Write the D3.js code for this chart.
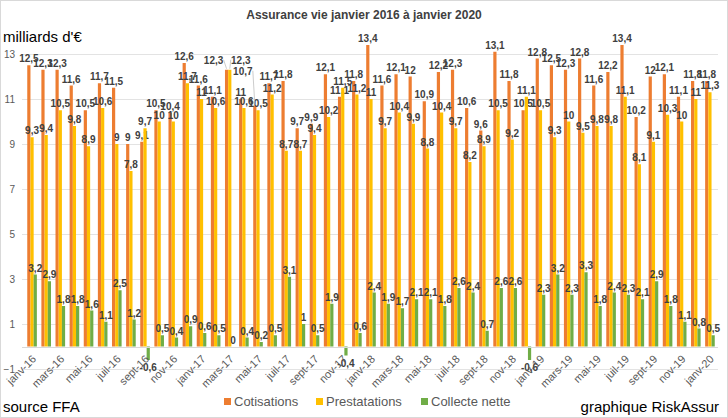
<!DOCTYPE html>
<html>
<head>
<meta charset="utf-8">
<script src="https://cdn.jsdelivr.net/npm/d3@7"></script>
<style>
  body { margin: 0; background: #fff; }
  svg { display: block; font-family: "Liberation Sans", Arial, sans-serif; }
</style>
</head>
<body>
<script>
// months, one per bar group
var months = [
  "janv-16","févr-16","mars-16","avr-16","mai-16","juin-16","juil-16","août-16","sept-16","oct-16","nov-16","déc-16",
  "janv-17","févr-17","mars-17","avr-17","mai-17","juin-17","juil-17","août-17","sept-17","oct-17","nov-17","déc-17",
  "janv-18","févr-18","mars-18","avr-18","mai-18","juin-18","juil-18","août-18","sept-18","oct-18","nov-18","déc-18",
  "janv-19","févr-19","mars-19","avr-19","mai-19","juin-19","juil-19","août-19","sept-19","oct-19","nov-19","déc-19",
  "janv-20"
];

var cotisations = [
  12.5,12.3,12.3,11.6,10.5,11.7,11.5,9,9.1,10.5,10.4,12.6,
  11.6,11.1,12.3,11,10.7,11.7,11.8,9.7,9.9,12.1,11.1,11.8,
  13.4,11.6,12.1,12,10.9,12.2,12.3,10.6,9.6,13.1,11.8,10.5,
  12.8,12.5,12.3,12.8,11.6,12.2,13.4,10.2,12,12.1,11.1,11.8,
  11.8
];
var prestations = [
  9.3,9.4,10.5,9.8,8.9,10.6,9,7.8,9.7,10,10,11.7,
  11,10.6,12.3,10.6,10.5,11.2,8.7,8.7,9.4,10.2,11.5,11.2,
  11,9.7,10.4,9.9,8.8,10.4,9.7,8.2,8.9,10.5,9.2,11.1,
  10.5,9.3,10,9.5,9.8,9.8,11.1,8.1,9.1,10.3,10,11,
  11.3
];
var collecte = [
  3.2,2.9,1.8,1.8,1.6,1.1,2.5,1.2,-0.6,0.5,0.4,0.9,
  0.6,0.5,0,0.4,0.2,0.5,3.1,1,0.5,1.9,-0.4,0.6,
  2.4,1.9,1.7,2.1,2.1,1.8,2.6,2.4,0.7,2.6,2.6,-0.6,
  2.3,3.2,2.3,3.3,1.8,2.4,2.3,2.1,2.9,1.8,1.1,0.8,
  0.5
];
var seriesNames = ["Cotisations", "Prestatations", "Collecte nette"];
var yTicks = [-1, 1, 3, 5, 7, 9, 11, 13];

var colors = ["#ED7D31", "#FFC000", "#70AD47"];
var W = 728, H = 418;

// labels moved by hand in the original (series index | month)
var labelMoves = {
  "0|mars-17": {dx: -13, dy: -3},
  "1|mars-17": {dx: 11, dy: -3},
  "0|mai-17": {dx: -12, dy: -28}
};

var svg = d3.select("body").append("svg")
    .attr("width", W).attr("height", H);

svg.append("rect")
    .attr("x", 0.5).attr("y", 0.5)
    .attr("width", W - 1).attr("height", H - 1)
    .attr("fill", "#fff").attr("stroke", "#d9d9d9");

var x = d3.scaleBand().domain(months).range([25, 717])
    .paddingInner(0.32).paddingOuter(0.16);
var xs = d3.scaleBand().domain(d3.range(3)).range([0, x.bandwidth()]);
var y = d3.scaleLinear().domain([-1, 13]).range([369, 54]);

// gridlines
svg.append("g").selectAll("line")
    .data(yTicks)
    .enter().append("line")
    .attr("x1", 22).attr("x2", 718)
    .attr("y1", function(d) { return Math.round(y(d)) + 0.5; })
    .attr("y2", function(d) { return Math.round(y(d)) + 0.5; })
    .attr("stroke", "#e3e3e3");

// y axis labels
var yAxis = d3.axisLeft(y).tickValues(yTicks).tickSize(0).tickPadding(0);
svg.append("g")
    .attr("transform", "translate(15,0)")
    .call(yAxis)
    .call(function(g) { g.select(".domain").remove(); })
    .selectAll("text")
    .attr("font-size", 10).attr("fill", "#595959")
    .attr("font-family", "Liberation Sans, Arial, sans-serif");

// bars
var series = [cotisations, prestations, collecte];
var points = function(d, i) {
    return d.map(function(v, j) { return {v: v, m: months[j], s: i}; });
};
var groups = svg.append("g").selectAll("g")
    .data(series)
    .enter().append("g")
    .attr("fill", function(d, i) { return colors[i]; });

groups.selectAll("rect")
    .data(points)
    .enter().append("rect")
    .attr("x", function(d) { return x(d.m) + xs(d.s); })
    .attr("width", xs.bandwidth())
    .attr("y", function(d) { return y(Math.max(0, d.v)); })
    .attr("height", function(d) { return Math.abs(y(d.v) - y(0)); });

// zero axis line
svg.append("line")
    .attr("x1", 22).attr("x2", 718)
    .attr("y1", Math.round(y(0)) + 0.5).attr("y2", Math.round(y(0)) + 0.5)
    .attr("stroke", "#d9d9d9");

// data labels
var fmt = function(v) { return String(v).replace(".", ","); };
var barCx = function(d) { return x(d.m) + xs(d.s) + xs.bandwidth() / 2; };
var move = function(d) { return labelMoves[d.s + "|" + d.m] || {dx: 0, dy: 0}; };

// leader lines for moved labels
var moved = [];
series.forEach(function(s, i) {
    points(s, i).forEach(function(p) { if (labelMoves[p.s + "|" + p.m]) moved.push(p); });
});
svg.append("g").selectAll("line")
    .data(moved.filter(function(d) { return move(d).dy < -10 || Math.abs(move(d).dx) > 8; }))
    .enter().append("line")
    .attr("x1", function(d) { return barCx(d) + move(d).dx + (move(d).dx < 0 ? 10 : -10); })
    .attr("y1", function(d) { return y(d.v) - 3 + move(d).dy - 4; })
    .attr("x2", function(d) { return barCx(d); })
    .attr("y2", function(d) { return y(d.v) - 1; })
    .attr("stroke", "#bfbfbf").attr("stroke-width", 0.8);

groups.selectAll("text")
    .data(points)
    .enter().append("text")
    .attr("x", function(d) { return barCx(d) + move(d).dx; })
    .attr("y", function(d) { return (d.v < 0 ? y(d.v) + 11 : y(d.v) - 3) + move(d).dy; })
    .attr("text-anchor", "middle")
    .attr("font-size", 10).attr("font-weight", "bold")
    .attr("fill", "#404040")
    .text(function(d) { return fmt(d.v); });

// x axis labels, every other month
svg.append("g").selectAll("text")
    .data(months.filter(function(d, i) { return i % 2 === 0; }))
    .enter().append("text")
    .attr("transform", function(d) {
        return "translate(" + (x(d) + x.bandwidth() / 2 + 2) + ",357) rotate(-45)";
    })
    .attr("text-anchor", "end")
    .attr("dy", "0.35em")
    .attr("font-size", 11).attr("fill", "#595959")
    .text(function(d) { return d; });

// title and captions
svg.append("text")
    .attr("x", 364).attr("y", 19)
    .attr("text-anchor", "middle")
    .attr("font-size", 12).attr("font-weight", "bold").attr("fill", "#404040")
    .text("Assurance vie janvier 2016 à janvier 2020");

svg.append("text")
    .attr("x", 3).attr("y", 42)
    .attr("font-size", 15).attr("fill", "#000")
    .text("milliards d'€");

svg.append("text")
    .attr("x", 3).attr("y", 412)
    .attr("font-size", 15).attr("fill", "#000")
    .text("source FFA");

svg.append("text")
    .attr("x", 719).attr("y", 412)
    .attr("text-anchor", "end")
    .attr("font-size", 15).attr("fill", "#000")
    .text("graphique RiskAssur");

// legend
var legendX = [224, 316, 421];
var legend = svg.append("g").selectAll("g")
    .data(seriesNames)
    .enter().append("g")
    .attr("transform", function(d, i) { return "translate(" + legendX[i] + ",398)"; });
legend.append("rect")
    .attr("width", 7).attr("height", 7)
    .attr("fill", function(d, i) { return colors[i]; });
legend.append("text")
    .attr("x", 10).attr("y", 7.5)
    .attr("font-size", 13).attr("fill", "#595959")
    .text(function(d) { return d; });
</script>
</body>
</html>
